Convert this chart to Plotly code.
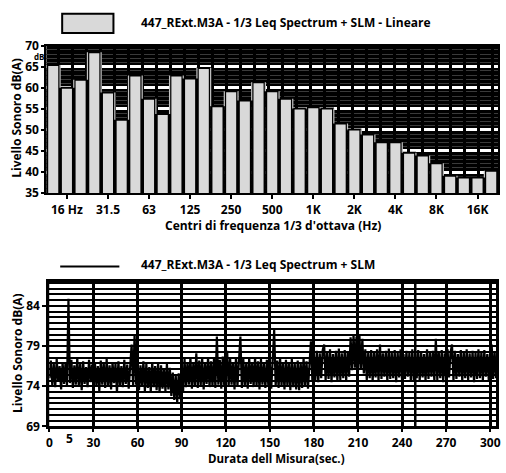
import plotly.graph_objects as go

# 1/3-octave band centres and measured levels (dB)
bands = ["12.5", "16", "20", "25", "31.5", "40", "50", "63", "80", "100", "125",
         "160", "200", "250", "315", "400", "500", "630", "800", "1K", "1.25K",
         "1.6K", "2K", "2.5K", "3.15K", "4K", "5K", "6.3K", "8K", "10K", "12.5K",
         "16K", "20K"]
levels = [65.4, 60.0, 61.9, 68.4, 58.9, 52.4, 62.9, 57.4, 53.8, 62.9, 62.2,
          64.7, 55.6, 59.2, 57.0, 61.3, 59.2, 57.4, 55.1, 55.4, 55.1,
          51.5, 50.1, 48.9, 47.1, 47.1, 44.6, 43.9, 42.1, 39.1, 38.7,
          38.7, 40.3]
band_ticks = [1, 4, 7, 10, 13, 16, 19, 22, 25, 28, 31]
band_ticktext = ["16 Hz", "31.5", "63", "125", "250", "500", "1K", "2K", "4K", "8K", "16K"]

# Time history of the level (one reading per second)
slm_level = [
    75.0, 77.2, 74.1, 76.8, 73.9, 77.4, 74.6, 76.5, 73.6, 77.0,
    74.3, 76.9, 74.0, 84.9, 74.4, 77.3, 73.8, 76.6, 74.2, 77.5,
    74.0, 76.8, 73.5, 77.1, 74.3, 76.4, 73.9, 77.3, 74.5, 76.7,
    73.7, 77.0, 74.1, 76.5, 73.4, 77.2, 74.2, 76.9, 73.8, 77.4,
    74.0, 76.6, 73.6, 77.0, 74.4, 76.8, 73.2, 77.1, 74.1, 76.5,
    73.9, 77.3, 74.3, 76.7, 73.7, 77.0, 79.2, 74.0, 80.5, 74.2,
    76.9, 73.5, 76.6, 74.0, 77.1, 73.4, 76.8, 73.8, 76.4, 73.3,
    77.0, 73.9, 76.5, 73.5, 76.9, 73.2, 76.6, 73.7, 76.2, 73.4,
    76.8, 73.6, 76.3, 72.8, 75.7, 72.3, 75.4, 71.9, 75.6, 72.4,
    76.2, 73.3, 77.4, 73.9, 77.0, 74.2, 77.6, 73.7, 76.9, 74.0,
    78.1, 73.8, 77.2, 74.1, 77.5, 73.6, 76.8, 74.3, 77.6, 73.9,
    77.1, 74.0, 77.4, 73.8, 80.2, 74.2, 77.3, 73.7, 77.7, 74.1,
    76.9, 78.4, 73.9, 77.5, 74.2, 77.0, 73.6, 77.6, 74.0, 77.2,
    80.2, 73.8, 77.4, 74.1, 76.9, 73.7, 77.5, 74.3, 77.0, 73.9,
    77.6, 74.0, 77.1, 73.6, 77.4, 74.2, 76.8, 73.8, 77.3, 74.1,
    77.0, 73.7, 77.5, 81.0, 74.0, 77.2, 73.8, 77.6, 74.1, 76.9,
    73.6, 77.3, 74.0, 77.0, 73.5, 77.4, 73.9, 76.8, 73.6, 77.2,
    73.5, 77.0, 73.8, 77.5, 74.0, 77.1, 73.7, 77.6, 79.6, 74.6,
    78.0, 74.8, 78.4, 74.5, 78.1, 75.0, 78.5, 79.2, 74.7, 78.2,
    74.9, 78.6, 74.5, 78.0, 75.1, 78.4, 74.6, 78.7, 74.8, 78.1,
    75.0, 78.5, 74.7, 78.3, 75.2, 80.1, 76.0, 80.4, 76.3, 80.2,
    75.8, 80.4, 76.1, 79.9, 75.6, 78.6, 74.8, 78.2, 75.0, 78.5,
    74.6, 78.3, 75.1, 78.6, 74.7, 79.2, 74.9, 78.1, 75.2, 78.4,
    74.6, 78.7, 74.9, 78.2, 75.0, 78.5, 74.5, 78.3, 75.1, 78.6,
    74.7, 78.0, 74.9, 78.4, 75.2, 78.2, 74.6, 78.6, 74.8, 78.1,
    75.0, 78.5, 74.6, 78.3, 75.1, 78.0, 74.7, 78.6, 74.9, 78.2,
    75.2, 78.4, 74.6, 79.9, 74.8, 78.3, 75.0, 78.5, 74.5, 78.1,
    74.9, 78.6, 75.1, 78.2, 79.2, 74.7, 78.4, 74.9, 78.0, 75.2,
    78.5, 74.6, 78.3, 75.0, 78.6, 74.8, 78.1, 75.1, 78.4, 74.5,
    78.2, 74.9, 78.6, 75.0, 78.3, 74.7, 78.5, 75.2, 78.0, 74.8,
    78.4, 79.2, 74.9, 78.3, 75.0, 78.2,
]
slm_time = list(range(len(slm_level)))
time_ticks = [0, 30, 60, 90, 120, 150, 180, 210, 240, 270, 300]

legend_text_top = "447_RExt.M3A - 1/3 Leq Spectrum + SLM - Lineare"
legend_text_bottom = "447_RExt.M3A - 1/3 Leq Spectrum + SLM"
y_title = "Livello Sonoro dB(A)"

FONT = "Open Sans"
W, H = 506, 473


def px(x, y):
    return x / W, 1 - y / H


fig = go.Figure()

# spectrum bars
band_pos = list(range(len(bands)))
fig.add_trace(go.Bar(
    x=band_pos, y=levels,
    marker=dict(color="#d9d9d9", line=dict(color="black", width=2)),
    xaxis="x", yaxis="y", showlegend=False,
    hovertext=bands,
))

# light step connectors between neighbouring bands
sx, sy = [], []
for i in range(len(levels) - 1):
    sx += [i + 0.5, i + 0.5, None]
    sy += [levels[i], levels[i + 1], None]
fig.add_trace(go.Scatter(
    x=sx, y=sy, mode="lines", line=dict(color="#c4c4c4", width=1.2),
    xaxis="x", yaxis="y", showlegend=False, hoverinfo="skip",
))

# time history
fig.add_trace(go.Scatter(
    x=slm_time, y=slm_level, mode="lines",
    line=dict(color="black", width=2.2),
    xaxis="x2", yaxis="y2", showlegend=False,
))

tickfont = dict(family=FONT, size=12, color="black", weight="bold")
textfont = dict(family=FONT, size=12, color="black", weight="bold")

fig.update_layout(
    width=W, height=H,
    margin=dict(l=0, r=0, t=0, b=0),
    paper_bgcolor="white",
    font=dict(family=FONT, size=12, color="black"),
    bargap=0.12,
    xaxis=dict(
        domain=[44 / W, 502 / W], anchor="y",
        range=[-0.5, len(bands) - 0.5],
        tickmode="array", tickvals=band_ticks, ticktext=band_ticktext,
        ticks="outside", ticklen=4, tickwidth=1.5, tickcolor="black",
        tickfont=tickfont,
        showgrid=False,
        minor=dict(tick0=0.5, dtick=1, showgrid=True, gridcolor="black",
                   gridwidth=2, ticks=""),
        showline=True, linecolor="black", linewidth=2, mirror=True,
        zeroline=False,
    ),
    yaxis=dict(
        domain=[1 - 191 / H, 1 - 38 / H], anchor="x",
        range=[35, 70], tick0=35, dtick=5,
        ticks="outside", ticklen=3, tickwidth=1.5, tickcolor="black",
        tickfont=tickfont,
        showgrid=True, gridcolor="white", gridwidth=2.5, griddash="11px,3px",
        minor=dict(dtick=1, showgrid=True, gridcolor="#3a3a3a", gridwidth=1),
        showline=True, linecolor="black", linewidth=2, mirror=True,
        zeroline=False,
    ),
    xaxis2=dict(
        domain=[47 / W, 500 / W], anchor="y2",
        range=[0, 304],
        tickmode="array", tickvals=time_ticks,
        ticktext=[str(t) for t in time_ticks],
        ticks="outside", ticklen=3, tickwidth=2, tickcolor="black",
        tickfont=tickfont,
        showgrid=True, gridcolor="black", gridwidth=3,
        showline=True, linecolor="black", linewidth=3, mirror=True,
        zeroline=False,
    ),
    yaxis2=dict(
        domain=[1 - 433 / H, 1 - 283 / H], anchor="x2",
        range=[69, 87], tick0=69, dtick=5,
        ticks="outside", ticklen=4, tickwidth=2, tickcolor="black",
        tickfont=tickfont,
        showgrid=True, gridcolor="black", gridwidth=2,
        minor=dict(tick0=69, dtick=5 / 7, showgrid=True, gridcolor="black",
                   gridwidth=2),
        showline=True, linecolor="black", linewidth=3, mirror=True,
        zeroline=False,
    ),
    plot_bgcolor="black",
)

# white background for the lower chart
fig.add_shape(type="rect", xref="x2 domain", yref="y2 domain",
              x0=0, x1=1, y0=0, y1=1, fillcolor="white",
              line=dict(width=0), layer="below")
# extra vertical rule in the lower chart
fig.add_shape(type="line", xref="x2", yref="y2 domain",
              x0=249, x1=249, y0=0, y1=1,
              line=dict(color="black", width=2.5), layer="below")

# legend of the spectrum chart
lx0, ly0 = px(60, 25)
lx1, ly1 = px(112, 5)
fig.add_shape(type="rect", xref="paper", yref="paper",
              x0=lx0, x1=lx1, y0=ly0, y1=ly1,
              fillcolor="#d9d9d9", line=dict(color="black", width=2))
tx, ty = px(138, 14)
fig.add_annotation(text=legend_text_top, xref="paper", yref="paper",
                   x=tx, y=ty, xanchor="left", yanchor="middle",
                   showarrow=False, font=textfont)

# legend of the time chart
bx0, by = px(58, 267)
bx1, _ = px(118, 267)
fig.add_shape(type="line", xref="paper", yref="paper",
              x0=bx0, x1=bx1, y0=by, y1=by,
              line=dict(color="black", width=2))
tx, ty = px(138, 265)
fig.add_annotation(text=legend_text_bottom, xref="paper", yref="paper",
                   x=tx, y=ty, xanchor="left", yanchor="middle",
                   showarrow=False, font=textfont)

# unit label beside the top of the level axis
ux, uy = px(43, 49)
fig.add_annotation(text="dB", xref="paper", yref="paper", x=ux, y=uy,
                   xanchor="right", yanchor="middle", showarrow=False,
                   borderpad=0,
                   font=dict(family=FONT, size=8, weight="bold"))

# extra label on the time axis
fig.add_annotation(text="5", xref="x2", yref="paper", x=14, y=px(0, 445)[1],
                   xanchor="center", yanchor="middle", showarrow=False,
                   font=tickfont)

# axis titles
for (cx, cy), txt, ang, size in [
    (px(14, 113), y_title, -90, 12),
    (px(14, 357), y_title, -90, 12),
    (px(274, 225), "Centri di frequenza 1/3 d'ottava (Hz)", 0, 12),
    (px(277, 466), "Durata dell Misura(sec.)", 0, 11.5),
]:
    fig.add_annotation(text=txt, xref="paper", yref="paper", x=cx, y=cy,
                       xanchor="center", yanchor="middle", showarrow=False,
                       textangle=ang, borderpad=0,
                       font=dict(family=FONT, size=size, color="black",
                                 weight="bold"))

fig.write_html("out.html")
